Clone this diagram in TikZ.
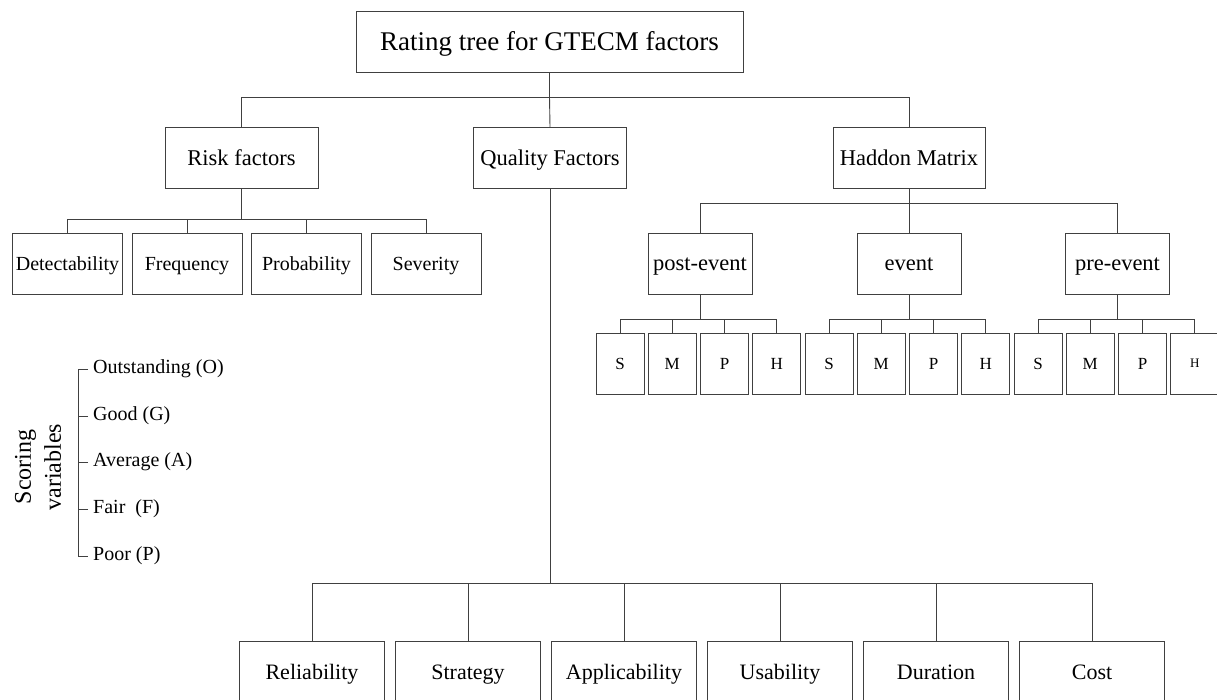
\documentclass[tikz,border=0pt]{standalone}
\usepackage{fontspec}
\setmainfont{Liberation Serif}
\tikzset{
  box/.style={draw=black!75,line width=0.9pt,inner sep=0pt,minimum height=61pt},
  rootbox/.style={box,minimum width=387pt,font=\fontsize{27}{31}\selectfont,text height=23.2pt,text depth=5.4pt},
  catbox/.style={box,minimum width=153pt,font=\fontsize{22.5}{26}\selectfont,text height=19.4pt,text depth=4.5pt},
  riskbox/.style={box,minimum width=110pt,font=\fontsize{20}{24}\selectfont,text height=17.2pt,text depth=4pt},
  phasebox/.style={box,minimum width=104pt,font=\fontsize{22.5}{26}\selectfont,text height=19.4pt,text depth=4.5pt},
  letterbox/.style={box,minimum width=48pt,font=\fontsize{17}{20}\selectfont,text height=14.6pt,text depth=3.4pt},
  qualbox/.style={box,minimum width=145pt,minimum height=62pt,font=\fontsize{22}{26}\selectfont,text height=18.9pt,text depth=4.4pt},
  scorelabel/.style={anchor=west,inner sep=0pt,inner xsep=5pt,font=\fontsize{20}{24}\selectfont},
  link/.style={draw=black!75,line width=0.9pt},
}
\begin{document}
\begin{tikzpicture}[x=1pt,y=-1pt]
  \useasboundingbox (0,0) rectangle (1217,699);
  \clip (0,0) rectangle (1217,699);
  \node[rootbox] (root) at (549.5,41.5) {Rating tree for GTECM factors};
  \node[catbox] (risk) at (241.5,158) {Risk factors};
  \node[catbox] (quality) at (550,158) {Quality Factors};
  \node[catbox,minimum width=152pt] (haddon) at (909,158) {Haddon Matrix};
  \coordinate (b0) at (root.south |- 0,97);
  \draw[link] (root.south) -- (b0);
  \draw[link] (b0) -| (risk.north);
  \draw[link] (b0) -- (quality.north);
  \draw[link] (b0) -| (haddon.north);

  \node[riskbox] (detect) at (67.5,263.5) {Detectability};
  \node[riskbox] (freq) at (187,263.5) {Frequency};
  \node[riskbox] (prob) at (306.5,263.5) {Probability};
  \node[riskbox] (sever) at (426,263.5) {Severity};
  \coordinate (b1) at (risk.south |- 0,219);
  \draw[link] (risk.south) -- (b1);
  \draw[link] (b1) -| (detect.north);
  \draw[link] (b1) -| (freq.north);
  \draw[link] (b1) -| (prob.north);
  \draw[link] (b1) -| (sever.north);

  \node[phasebox] (post) at (700,263.5) {post-event};
  \node[phasebox] (event) at (909,263.5) {event};
  \node[phasebox] (pre) at (1117.5,263.5) {pre-event};
  \coordinate (b2) at (haddon.south |- 0,203);
  \draw[link] (haddon.south) -- (b2);
  \draw[link] (b2) -| (post.north);
  \draw[link] (b2) -- (event.north);
  \draw[link] (b2) -| (pre.north);

  \node[letterbox] (postS) at (620,363.5) {S};
  \node[letterbox] (postM) at (672.25,363.5) {M};
  \node[letterbox] (postP) at (724.5,363.5) {P};
  \node[letterbox] (postH) at (776.75,363.5) {H};
  \node[letterbox] (eventS) at (829,363.5) {S};
  \node[letterbox] (eventM) at (881.25,363.5) {M};
  \node[letterbox] (eventP) at (933.5,363.5) {P};
  \node[letterbox] (eventH) at (985.75,363.5) {H};
  \node[letterbox] (preS) at (1038,363.5) {S};
  \node[letterbox] (preM) at (1090.25,363.5) {M};
  \node[letterbox] (preP) at (1142.5,363.5) {P};
  \node[letterbox,font=\fontsize{13}{16}\selectfont,text height=11.2pt,text depth=2.6pt] (preH) at (1194.75,363.5) {H};
  \coordinate (c1) at (post.south |- 0,319);
  \coordinate (c2) at (event.south |- 0,319);
  \coordinate (c3) at (pre.south |- 0,319);
  \draw[link] (post.south) -- (c1);
  \draw[link] (c1) -| (postS.north);
  \draw[link] (c1) -| (postM.north);
  \draw[link] (c1) -| (postP.north);
  \draw[link] (c1) -| (postH.north);
  \draw[link] (event.south) -- (c2);
  \draw[link] (c2) -| (eventS.north);
  \draw[link] (c2) -| (eventM.north);
  \draw[link] (c2) -| (eventP.north);
  \draw[link] (c2) -| (eventH.north);
  \draw[link] (pre.south) -- (c3);
  \draw[link] (c3) -| (preS.north);
  \draw[link] (c3) -| (preM.north);
  \draw[link] (c3) -| (preP.north);
  \draw[link] (c3) -| (preH.north);

  \node[qualbox] (reli) at (312,672) {Reliability};
  \node[qualbox] (strat) at (468,672) {Strategy};
  \node[qualbox] (appl) at (624,672) {Applicability};
  \node[qualbox] (usab) at (780,672) {Usability};
  \node[qualbox] (durat) at (936,672) {Duration};
  \node[qualbox] (cost) at (1092,672) {Cost};
  \coordinate (b3) at (quality.south |- 0,583);
  \draw[link] (quality.south) -- (b3);
  \draw[link] (b3) -| (reli.north);
  \draw[link] (b3) -| (strat.north);
  \draw[link] (b3) -| (appl.north);
  \draw[link] (b3) -| (usab.north);
  \draw[link] (b3) -| (durat.north);
  \draw[link] (b3) -| (cost.north);

  \node[rotate=90,align=center,inner sep=0pt,font=\fontsize{24}{30}\selectfont] (scoring) at (38,467) {Scoring\\variables};
  \node[scorelabel] (outst) at (88,369) {Outstanding (O)};
  \node[scorelabel] (good) at (88,416) {Good (G)};
  \node[scorelabel] (aver) at (88,462) {Average (A)};
  \node[scorelabel] (fair) at (88,509) {Fair~~(F)};
  \node[scorelabel] (poor) at (88,556) {Poor (P)};
  \draw[link] (outst.west) -- ++(-10,0) |- (poor.west);
  \draw[link] (good.west) -- ++(-10,0);
  \draw[link] (aver.west) -- ++(-10,0);
  \draw[link] (fair.west) -- ++(-10,0);
\end{tikzpicture}
\end{document}
